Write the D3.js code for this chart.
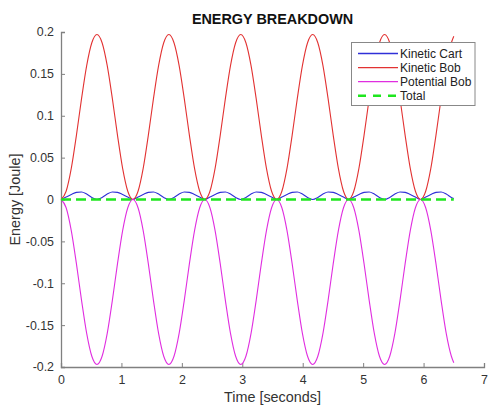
<!DOCTYPE html>
<html>
<head>
<meta charset="utf-8">
<script src="https://cdn.jsdelivr.net/npm/d3@7"></script>
<style>
  html, body { margin: 0; padding: 0; background: #fff; }
  svg { display: block; font-family: "Liberation Sans", Arial, Helvetica, sans-serif; }
</style>
</head>
<body>
<svg id="chart" width="488" height="406"></svg>
<script>
// ---- data ----
const time = [
  0, 0.085, 0.17, 0.255, 0.34, 0.425, 0.51, 0.595, 0.68, 0.765, 0.85, 0.935, 1.02, 1.105,
  1.19, 1.275, 1.36, 1.445, 1.53, 1.615, 1.7, 1.785, 1.87, 1.955, 2.04, 2.125, 2.21, 2.295,
  2.38, 2.465, 2.55, 2.635, 2.72, 2.805, 2.89, 2.975, 3.06, 3.145, 3.23, 3.315, 3.4, 3.485,
  3.57, 3.655, 3.74, 3.825, 3.91, 3.995, 4.08, 4.165, 4.25, 4.335, 4.42, 4.505, 4.59, 4.675,
  4.76, 4.845, 4.93, 5.015, 5.1, 5.185, 5.27, 5.355, 5.44, 5.525, 5.61, 5.695, 5.78, 5.865,
  5.95, 6.035, 6.12, 6.205, 6.29, 6.375, 6.46, 6.5
];
const kineticCart = [
  0, 0.003, 0.006, 0.0085, 0.009, 0.0065, 0.0025, 0, 0.0025, 0.0065, 0.009, 0.0085, 0.006, 0.003,
  0, 0.003, 0.006, 0.0085, 0.009, 0.0065, 0.0025, 0, 0.0025, 0.0065, 0.009, 0.0085, 0.006, 0.003,
  0, 0.003, 0.006, 0.0085, 0.009, 0.0065, 0.0025, 0, 0.0025, 0.0065, 0.009, 0.0085, 0.006, 0.003,
  0, 0.003, 0.006, 0.0085, 0.009, 0.0065, 0.0025, 0, 0.0025, 0.0065, 0.009, 0.0085, 0.006, 0.003,
  0, 0.003, 0.006, 0.0085, 0.009, 0.0065, 0.0025, 0, 0.0025, 0.0065, 0.009, 0.0085, 0.006, 0.003,
  0, 0.003, 0.006, 0.0085, 0.009, 0.0065, 0.0025, 0.0012
];
const kineticBob = [
  0, 0.0098, 0.0371, 0.0766, 0.1204, 0.1599, 0.1872, 0.197, 0.1872, 0.1599, 0.1204, 0.0766, 0.0371, 0.0098,
  0, 0.0098, 0.0371, 0.0766, 0.1204, 0.1599, 0.1872, 0.197, 0.1872, 0.1599, 0.1204, 0.0766, 0.0371, 0.0098,
  0, 0.0098, 0.0371, 0.0766, 0.1204, 0.1599, 0.1872, 0.197, 0.1872, 0.1599, 0.1204, 0.0766, 0.0371, 0.0098,
  0, 0.0098, 0.0371, 0.0766, 0.1204, 0.1599, 0.1872, 0.197, 0.1872, 0.1599, 0.1204, 0.0766, 0.0371, 0.0098,
  0, 0.0098, 0.0371, 0.0766, 0.1204, 0.1599, 0.1872, 0.197, 0.1872, 0.1599, 0.1204, 0.0766, 0.0371, 0.0098,
  0, 0.0098, 0.0371, 0.0766, 0.1204, 0.1599, 0.1872, 0.195
];
const potentialBob = [
  0, -0.0098, -0.0371, -0.0766, -0.1204, -0.1599, -0.1872, -0.197, -0.1872, -0.1599, -0.1204, -0.0766, -0.0371, -0.0098,
  0, -0.0098, -0.0371, -0.0766, -0.1204, -0.1599, -0.1872, -0.197, -0.1872, -0.1599, -0.1204, -0.0766, -0.0371, -0.0098,
  0, -0.0098, -0.0371, -0.0766, -0.1204, -0.1599, -0.1872, -0.197, -0.1872, -0.1599, -0.1204, -0.0766, -0.0371, -0.0098,
  0, -0.0098, -0.0371, -0.0766, -0.1204, -0.1599, -0.1872, -0.197, -0.1872, -0.1599, -0.1204, -0.0766, -0.0371, -0.0098,
  0, -0.0098, -0.0371, -0.0766, -0.1204, -0.1599, -0.1872, -0.197, -0.1872, -0.1599, -0.1204, -0.0766, -0.0371, -0.0098,
  0, -0.0098, -0.0371, -0.0766, -0.1204, -0.1599, -0.1872, -0.195
];
const total = [
  0, 0, 0, 0, 0, 0, 0, 0, 0, 0, 0, 0, 0, 0,
  0, 0, 0, 0, 0, 0, 0, 0, 0, 0, 0, 0, 0, 0,
  0, 0, 0, 0, 0, 0, 0, 0, 0, 0, 0, 0, 0, 0,
  0, 0, 0, 0, 0, 0, 0, 0, 0, 0, 0, 0, 0, 0,
  0, 0, 0, 0, 0, 0, 0, 0, 0, 0, 0, 0, 0, 0,
  0, 0, 0, 0, 0, 0, 0, 0
];
const seriesNames = ["Kinetic Cart", "Kinetic Bob", "Potential Bob", "Total"];
const xTicks = [0, 1, 2, 3, 4, 5, 6, 7];
const yTicks = [-0.2, -0.15, -0.1, -0.05, 0, 0.05, 0.1, 0.15, 0.2];
const yTickLabels = ["-0.2", "-0.15", "-0.1", "-0.05", "0", "0.05", "0.1", "0.15", "0.2"];
const titleText = "ENERGY BREAKDOWN";
const xLabelText = "Time [seconds]";
const yLabelText = "Energy [Joule]";

// ---- layout & styles ----
const L = 61, R = 484, T = 32, B = 367;
const axisColor = "#808080";
const textColor = "#333333";
const styles = [
  { color: "#3030d8", width: 1.1, dash: null },
  { color: "#e23232", width: 1.1, dash: null },
  { color: "#e02ee0", width: 1.1, dash: null },
  { color: "#1ee61e", width: 2.6, dash: "10,5" }
];
const seriesData = [kineticCart, kineticBob, potentialBob, total];

const svg = d3.select("#chart");
const x = d3.scaleLinear().domain([0, 7]).range([L, R]);
const y = d3.scaleLinear().domain([-0.2, 0.2]).range([B, T]);

// axes
const xAxis = d3.axisBottom(x).tickValues(xTicks).tickSize(-4).tickPadding(8).tickFormat(d3.format("d"));
const yAxis = d3.axisLeft(y).tickValues(yTicks).tickSize(-4).tickPadding(7)
  .tickFormat((d, i) => yTickLabels[i]);

const gx = svg.append("g").attr("transform", `translate(0,${B})`).call(xAxis);
const gy = svg.append("g").attr("transform", `translate(${L},0)`).call(yAxis);
[gx, gy].forEach(g => {
  g.select(".domain").attr("stroke", axisColor).attr("stroke-width", 1.3);
  g.selectAll(".tick line").attr("stroke", axisColor).attr("stroke-width", 1);
  g.selectAll(".tick text").attr("fill", textColor).style("font-size", "12.4px")
    .style("font-family", "'Liberation Sans', Arial, sans-serif");
});

// lines
const line = d3.line().x((d, i) => x(time[i])).y(d => y(d)).curve(d3.curveMonotoneX);
seriesData.forEach((s, k) => {
  svg.append("path")
    .datum(s)
    .attr("d", line)
    .attr("fill", "none")
    .attr("stroke", styles[k].color)
    .attr("stroke-width", styles[k].width)
    .attr("stroke-dasharray", styles[k].dash);
});

// title & labels
svg.append("text").attr("x", (L + R) / 2).attr("y", 23.5).attr("text-anchor", "middle")
  .style("font-size", "14.4px").style("font-weight", "bold").attr("fill", "#111").text(titleText);
svg.append("text").attr("x", (L + R) / 2).attr("y", 402).attr("text-anchor", "middle")
  .style("font-size", "14.4px").attr("fill", textColor).text(xLabelText);
svg.append("text").attr("transform", `translate(20,${(T + B) / 2}) rotate(-90)`).attr("text-anchor", "middle")
  .style("font-size", "14.4px").attr("fill", textColor).text(yLabelText);

// legend
const lg = svg.append("g");
lg.append("rect").attr("x", 351.5).attr("y", 42.5).attr("width", 123.5).attr("height", 63)
  .attr("fill", "#fff").attr("stroke", "#888").attr("stroke-width", 1);
seriesNames.forEach((name, k) => {
  const yy = 53.5 + k * 14.1;
  lg.append("line").attr("x1", 358).attr("x2", 398).attr("y1", yy).attr("y2", yy)
    .attr("stroke", styles[k].color).attr("stroke-width", k === 3 ? 2.6 : 1.3)
    .attr("stroke-dasharray", k === 3 ? "8,7" : null);
  lg.append("text").attr("x", 400).attr("y", yy + 4.2)
    .style("font-size", "12px").attr("fill", "#222").text(name);
});
</script>
</body>
</html>
